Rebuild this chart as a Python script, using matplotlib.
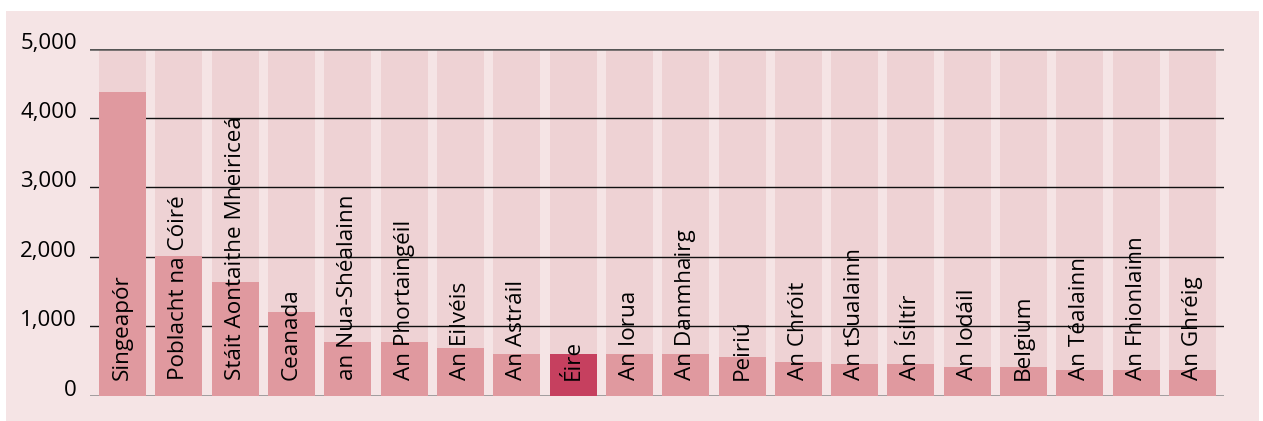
import matplotlib
matplotlib.use("Agg")
import matplotlib.pyplot as plt
from matplotlib.patches import Rectangle

plt.rcParams['font.family'] = ['Open Sans', 'DejaVu Sans']

countries = ["Singeapór", "Poblacht na Cóiré", "Stáit Aontaithe Mheiriceá", "Ceanada",
             "an Nua-Shéalainn", "An Phortaingéil", "An Eilvéis", "An Astráil", "Éire",
             "An Iorua", "An Danmhairg", "Peiriú", "An Chróit", "An tSualainn",
             "An Ísiltír", "An Iodáil", "Belgium", "An Téalainn", "An Fhionlainn", "An Ghréig"]
values = [4370, 2020, 1640, 1205, 773, 773, 691, 600, 600, 600, 600, 557, 485, 456,
          456, 413, 413, 370, 370, 370]
highlight = "Éire"
yticks = [0, 1000, 2000, 3000, 4000, 5000]
ytick_labels = ["0", "1,000", "2,000", "3,000", "4,000", "5,000"]
ymax = 5000

W, H = 1263, 421
fig = plt.figure(figsize=(W / 100, H / 100), dpi=100)
fig.patch.set_facecolor("white")
fig.add_artist(Rectangle((6 / W, 0), (1259 - 6) / W, (H - 11) / H,
                         transform=fig.transFigure, facecolor="#f5e4e5",
                         edgecolor="none", zorder=0))

left, right = 90, 1224
y0, y5 = 395.7, 48.7
ax = fig.add_axes([left / W, (H - y0) / H, (right - left) / W, (y0 - y5) / H])
ax.set_facecolor("none")

n = len(countries)
x = list(range(n))
bw = 0.835
ax.bar(x, [ymax] * n, width=bw, color="#eed2d4", zorder=1)
colors = ["#c6405f" if c == highlight else "#e0999f" for c in countries]
ax.bar(x, values, width=bw, color=colors, zorder=3)

for t in yticks[1:-1]:
    ax.axhline(t, color="#111111", lw=1.0, zorder=2)
ax.axhline(ymax, color="#555555", lw=1.8, zorder=2)
ax.axhline(0, color="#888888", lw=1.8, zorder=2)

for i, name in enumerate(countries):
    ax.annotate(name, xy=(i, 0), xytext=(0, 11.5), textcoords="offset points",
                rotation=90, ha="center", va="bottom", fontsize=16.2,
                color="#000000", zorder=5)

ax.set_xlim(-0.58, n - 1 + 0.56)
ax.set_ylim(0, ymax)
ax.set_xticks([])
ax.set_yticks(yticks)
ax.set_yticklabels(ytick_labels, fontsize=16, color="#000000")
for lab in ax.get_yticklabels():
    lab.set_verticalalignment("baseline")
ax.tick_params(axis="y", length=0, pad=9.5)
for s in ax.spines.values():
    s.set_visible(False)

fig.savefig("out.png", dpi=100, facecolor="white")
